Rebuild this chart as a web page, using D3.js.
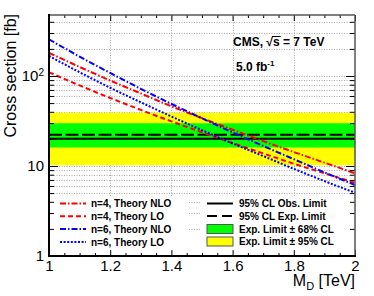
<!DOCTYPE html>
<html>
<head>
<script src="https://cdn.jsdelivr.net/npm/d3@7"></script>
<style>
	body { margin: 0; background: #fff; }
	svg { display: block; font-family: "Liberation Sans", Arial, sans-serif; }
</style>
</head>
<body>
<div id="container"></div>
<script>
	const width = 374, height = 296;

	// M_D in TeV, cross sections in fb
	const mdValues = [1.0, 1.1, 1.2, 1.3, 1.4, 1.5, 1.6, 1.7, 1.8, 1.9, 2.0];
	const n4NLO = [181, 126, 89, 64, 46, 34, 25.3, 18.9, 14.3, 10.9, 8.3];
	const n4LO  = [110, 78.5, 57, 42, 31.3, 23.7, 18.0, 13.8, 10.6, 8.3, 6.5];
	const n6NLO = [256, 164, 108, 72, 49, 33.9, 23.6, 16.7, 11.9, 8.5, 6.15];
	const n6LO  = [167, 110, 74, 51, 35.5, 25, 17.8, 12.9, 9.3, 6.8, 5.05];

	const limitMass = [1.0, 2.0];
	const obsLimit = [20.1, 20.1];
	const expLimit = [22.3, 22.3];
	const band68Low = [16.1, 16.1], band68High = [29.8, 29.8];
	const band95Low = [10.2, 10.2], band95High = [39.1, 39.1];

	const xMajorTicks = [1, 1.2, 1.4, 1.6, 1.8, 2];
	const xMinorTicks = [1.05, 1.1, 1.15, 1.25, 1.3, 1.35, 1.45, 1.5, 1.55, 1.65, 1.7, 1.75, 1.85, 1.9, 1.95];
	const yMajorTicks = [1, 10, 100];
	const yMinorTicks = [2, 3, 4, 5, 6, 7, 8, 9, 20, 30, 40, 50, 60, 70, 80, 90, 200, 300, 400];

	const pLeft = 49, pRight = 355, pTop = 15, pBottom = 256;

	var x = d3.scaleLinear().domain([1, 2]).range([pLeft, pRight]);
	var y = d3.scaleLog().domain([1, 476]).range([pBottom, pTop]);

	var svg = d3.select("#container").append("svg").attr("width", width).attr("height", height);

	svg.append("defs").append("clipPath").attr("id", "plot")
		.append("rect").attr("x", pLeft).attr("y", pTop).attr("width", pRight - pLeft).attr("height", pBottom - pTop);

	/* grid */
	var grid = svg.append("g").attr("stroke", "#aaa").attr("stroke-width", 1).attr("stroke-dasharray", "1,1.5");
	grid.selectAll(".gx").data(xMajorTicks.slice(1, -1)).enter().append("line")
		.attr("x1", d => Math.round(x(d)) + 0.5).attr("x2", d => Math.round(x(d)) + 0.5)
		.attr("y1", pTop).attr("y2", pBottom);
	grid.selectAll(".gy").data(yMinorTicks.concat([10, 100])).enter().append("line")
		.attr("x1", pLeft).attr("x2", pRight)
		.attr("y1", d => Math.round(y(d)) + 0.5).attr("y2", d => Math.round(y(d)) + 0.5);

	/* expected limit bands */
	var plot = svg.append("g").attr("clip-path", "url(#plot)");
	var area = (lo, hi) => d3.area().x((d, i) => x(limitMass[i])).y0((d, i) => y(lo[i])).y1((d, i) => y(hi[i]));
	plot.append("path").datum(limitMass).attr("fill", "#ffff00").attr("d", area(band95Low, band95High));
	plot.append("path").datum(limitMass).attr("fill", "#00ff00").attr("d", area(band68Low, band68High));

	var limLine = vals => d3.line().x((d, i) => x(limitMass[i])).y((d, i) => y(vals[i]));
	plot.append("path").datum(limitMass).attr("fill", "none").attr("stroke", "#000").attr("stroke-width", 2)
		.attr("stroke-dasharray", "13,3.5").attr("d", limLine(expLimit));
	plot.append("path").datum(limitMass).attr("fill", "none").attr("stroke", "#000").attr("stroke-width", 2)
		.attr("d", limLine(obsLimit));

	/* theory curves */
	const curves = [
		{ vals: n4NLO, color: "#ff0000", dash: "6,2,1.5,2", label: "n=4, Theory NLO" },
		{ vals: n4LO,  color: "#ff0000", dash: "5,3",       label: "n=4, Theory LO" },
		{ vals: n6NLO, color: "#0000ff", dash: "6,2,1.5,2", label: "n=6, Theory NLO" },
		{ vals: n6LO,  color: "#0000ff", dash: "2,1.6",     label: "n=6, Theory LO" }
	];
	curves.forEach(function(c) {
		plot.append("path").datum(mdValues).attr("fill", "none")
			.attr("stroke", c.color).attr("stroke-width", 2).attr("stroke-dasharray", c.dash)
			.attr("d", d3.line().curve(d3.curveMonotoneX).x(d => x(d)).y((d, i) => y(c.vals[i])));
	});

	/* legends */
	svg.append("rect").attr("x", 51).attr("y", 196).attr("width", 138).attr("height", 56).attr("fill", "#fff");
	svg.append("rect").attr("x", 200).attr("y", 196).attr("width", 154).attr("height", 56).attr("fill", "#fff");

	var leg1 = svg.append("g").attr("font-size", 10).attr("font-weight", "bold");
	curves.forEach(function(c, i) {
		var yy = 203.5 + i * 12.8;
		leg1.append("line").attr("x1", 60).attr("x2", 86).attr("y1", yy).attr("y2", yy)
			.attr("stroke", c.color).attr("stroke-width", 2).attr("stroke-dasharray", c.dash);
		leg1.append("text").attr("x", 91).attr("y", yy + 3.6).text(c.label);
	});

	var leg2 = svg.append("g").attr("font-size", 10).attr("font-weight", "bold");
	leg2.append("line").attr("x1", 207).attr("x2", 233).attr("y1", 203.5).attr("y2", 203.5).attr("stroke", "#000").attr("stroke-width", 2);
	leg2.append("text").attr("x", 239).attr("y", 207).text("95% CL Obs. Limit");
	leg2.append("line").attr("x1", 207).attr("x2", 233).attr("y1", 216).attr("y2", 216).attr("stroke", "#000").attr("stroke-width", 2).attr("stroke-dasharray", "10,5");
	leg2.append("text").attr("x", 239).attr("y", 219.5).text("95% CL Exp. Limit");
	leg2.append("rect").attr("x", 207).attr("y", 224.5).attr("width", 26).attr("height", 9).attr("fill", "#00ff00").attr("stroke", "#555").attr("stroke-width", 1);
	leg2.append("text").attr("x", 239).attr("y", 232.5).text("Exp. Limit \u00b1 68% CL");
	leg2.append("rect").attr("x", 207).attr("y", 237).attr("width", 26).attr("height", 9).attr("fill", "#ffff00").attr("stroke", "#555").attr("stroke-width", 1);
	leg2.append("text").attr("x", 239).attr("y", 245).text("Exp. Limit \u00b1 95% CL");

	/* axes, ticks inward */
	function clean(g) { g.select(".domain").remove(); g.selectAll("line").attr("stroke", "#000"); return g; }

	var gxb = svg.append("g").attr("transform", `translate(0,${pBottom})`)
		.call(d3.axisBottom(x).tickValues(xMajorTicks).tickSize(-6).tickPadding(4)
			.tickFormat(d => String(+d.toFixed(1))));
	clean(gxb).selectAll("text").attr("font-size", 15).attr("font-family", "Liberation Sans, Arial, sans-serif").attr("fill", "#000");
	clean(svg.append("g").attr("transform", `translate(0,${pBottom})`)
		.call(d3.axisBottom(x).tickValues(xMinorTicks).tickSize(-3).tickFormat("")));
	clean(svg.append("g").attr("transform", `translate(0,${pTop})`)
		.call(d3.axisTop(x).tickValues(xMajorTicks).tickSize(-6).tickFormat("")));
	clean(svg.append("g").attr("transform", `translate(0,${pTop})`)
		.call(d3.axisTop(x).tickValues(xMinorTicks).tickSize(-3).tickFormat("")));

	var gyl = svg.append("g").attr("transform", `translate(${pLeft},0)`)
		.call(d3.axisLeft(y).tickValues(yMajorTicks).tickSize(-9).tickPadding(5).tickFormat(d => String(d)));
	clean(gyl).selectAll("text").attr("font-size", 15).attr("font-family", "Liberation Sans, Arial, sans-serif").attr("fill", "#000");
	gyl.selectAll(".tick text").filter(d => d === 100).text("10")
		.append("tspan").attr("dy", "-0.55em").attr("font-size", 10).text("2");
	clean(svg.append("g").attr("transform", `translate(${pLeft},0)`)
		.call(d3.axisLeft(y).tickValues(yMinorTicks).tickSize(-5).tickFormat("")));
	clean(svg.append("g").attr("transform", `translate(${pRight},0)`)
		.call(d3.axisRight(y).tickValues(yMajorTicks).tickSize(-9).tickFormat("")));
	clean(svg.append("g").attr("transform", `translate(${pRight},0)`)
		.call(d3.axisRight(y).tickValues(yMinorTicks).tickSize(-5).tickFormat("")));

	/* frame */
	svg.append("line").attr("x1", pLeft).attr("x2", pRight).attr("y1", pTop).attr("y2", pTop).attr("stroke", "#555").attr("stroke-width", 1.5);
	svg.append("line").attr("x1", pRight).attr("x2", pRight).attr("y1", pTop).attr("y2", pBottom).attr("stroke", "#555").attr("stroke-width", 1.5);
	svg.append("line").attr("x1", pLeft).attr("x2", pRight + 1).attr("y1", pBottom).attr("y2", pBottom).attr("stroke", "#000").attr("stroke-width", 2);
	svg.append("line").attr("x1", pLeft).attr("x2", pLeft).attr("y1", pTop - 1).attr("y2", pBottom + 1).attr("stroke", "#000").attr("stroke-width", 2);

	/* titles */
	svg.append("text").attr("transform", "translate(16,14) rotate(-90)").attr("text-anchor", "end")
		.attr("font-size", 16).text("Cross section [fb]");
	var xt = svg.append("text").attr("x", pRight).attr("y", 286).attr("text-anchor", "end").attr("font-size", 16);
	xt.append("tspan").text("M");
	xt.append("tspan").attr("font-size", 11).attr("dy", 4).text("D");
	xt.append("tspan").attr("dy", -4).text(" [TeV]");

	var cms = svg.append("text").attr("x", 233).attr("y", 46).attr("font-size", 12).attr("font-weight", "bold")
		.text("CMS, \u221as  = 7 TeV");
	var n = cms.node();
	var sx0 = n.getStartPositionOfChar(6).x, sx1 = n.getEndPositionOfChar(6).x;
	svg.append("line").attr("x1", sx0 - 1).attr("x2", sx1 + 1).attr("y1", 36.5).attr("y2", 36.5)
		.attr("stroke", "#000").attr("stroke-width", 1);

	var lumi = svg.append("text").attr("x", 236).attr("y", 71).attr("font-size", 12).attr("font-weight", "bold");
	lumi.append("tspan").text("5.0 fb");
	lumi.append("tspan").attr("font-size", 8).attr("dy", -5).text("-1");
</script>
</body>
</html>
